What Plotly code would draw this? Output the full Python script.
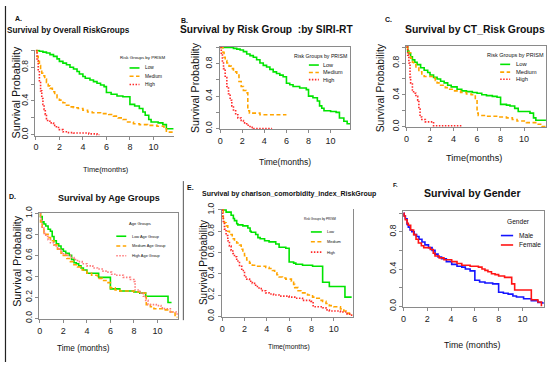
import plotly.graph_objects as go

W, H = 550, 366

# ---------------- data (time in months, survival probability) ----------------
# A. Survival by Overall RiskGroups
a_low_t = [0, 0.3, 0.6, 0.9, 1.2, 1.5, 1.8, 2.0, 2.3, 2.6, 2.9, 3.2, 3.5, 3.7, 4.0, 4.2, 4.6, 4.9, 5.2, 5.5, 5.8, 6.0, 6.4, 6.9, 7.4, 8.0, 8.4, 8.8, 9.1, 9.3, 9.6, 9.8, 10.4, 10.8, 11.1, 11.7]
a_low_s = [1.0, 0.99, 0.98, 0.97, 0.95, 0.93, 0.90, 0.87, 0.85, 0.83, 0.80, 0.78, 0.75, 0.72, 0.69, 0.67, 0.65, 0.63, 0.61, 0.59, 0.57, 0.50, 0.48, 0.46, 0.45, 0.36, 0.34, 0.31, 0.27, 0.23, 0.18, 0.15, 0.14, 0.12, 0.07, 0.07]
a_med_t = [0, 0.1, 0.2, 0.3, 0.4, 0.5, 0.6, 0.75, 0.9, 1.05, 1.2, 1.4, 1.6, 1.8, 2.0, 2.3, 2.6, 2.9, 3.2, 3.6, 4.0, 4.4, 4.8, 5.5, 6.2, 6.6, 7.0, 7.4, 7.8, 8.3, 8.8, 9.5, 10.3, 10.9, 11.1, 11.7]
a_med_s = [1.0, 0.93, 0.87, 0.82, 0.77, 0.73, 0.70, 0.66, 0.62, 0.58, 0.55, 0.51, 0.47, 0.44, 0.41, 0.38, 0.35, 0.33, 0.32, 0.31, 0.29, 0.27, 0.26, 0.25, 0.24, 0.22, 0.20, 0.18, 0.15, 0.13, 0.12, 0.11, 0.10, 0.09, 0.03, 0.03]
a_high_t = [0, 0.1, 0.2, 0.3, 0.4, 0.5, 0.6, 0.7, 0.8, 0.9, 1.0, 1.2, 1.5, 1.75, 2.0, 2.3, 2.7, 3.2, 4.5, 5.2, 5.4]
a_high_s = [1.0, 0.88, 0.76, 0.63, 0.52, 0.43, 0.36, 0.30, 0.24, 0.19, 0.16, 0.14, 0.11, 0.085, 0.06, 0.035, 0.025, 0.02, 0.01, 0.0, 0.0]

# B. Survival by Risk Group :by SIRI-RT
b_low_t = [0, 1.2, 1.5, 1.8, 2.1, 2.4, 2.7, 3.0, 3.3, 3.6, 3.9, 4.2, 4.5, 4.8, 5.1, 5.4, 5.7, 6.0, 6.3, 6.6, 7.2, 7.8, 8.0, 8.4, 8.8, 9.0, 9.2, 9.4, 10.0, 10.5, 10.8, 11.2, 11.5, 11.76]
b_low_s = [1.0, 0.99, 0.98, 0.97, 0.95, 0.92, 0.90, 0.88, 0.85, 0.81, 0.78, 0.76, 0.73, 0.70, 0.68, 0.66, 0.64, 0.56, 0.54, 0.52, 0.50, 0.48, 0.40, 0.38, 0.34, 0.28, 0.25, 0.22, 0.21, 0.20, 0.13, 0.09, 0.06, 0.05]
b_med_t = [0, 0.25, 0.35, 0.45, 0.6, 0.8, 1.0, 1.2, 1.5, 1.7, 1.9, 2.1, 2.35, 2.5, 2.65, 3.6, 6.0]
b_med_s = [1.0, 0.94, 0.88, 0.84, 0.81, 0.77, 0.74, 0.70, 0.66, 0.58, 0.52, 0.47, 0.44, 0.22, 0.19, 0.17, 0.17]
b_high_t = [0, 0.1, 0.2, 0.3, 0.45, 0.6, 0.75, 0.9, 1.05, 1.2, 1.4, 1.6, 1.9, 2.1, 2.4, 2.7, 3.0, 4.7]
b_high_s = [1.0, 0.92, 0.82, 0.74, 0.63, 0.52, 0.43, 0.35, 0.28, 0.23, 0.17, 0.13, 0.10, 0.07, 0.04, 0.015, 0.0, 0.0]

# C. Survival by CT_Risk Groups
c_low_t = [0, 0.1, 0.2, 0.35, 0.5, 0.7, 0.9, 1.2, 1.5, 1.8, 2.0, 2.3, 2.6, 2.9, 3.2, 3.5, 3.8, 4.3, 4.7, 5.1, 5.6, 6.0, 6.4, 6.8, 7.3, 7.7, 8.0, 8.5, 8.8, 9.2, 9.5, 10.5, 10.8, 11.0, 11.86]
c_low_s = [1.0, 0.95, 0.92, 0.88, 0.84, 0.81, 0.78, 0.74, 0.71, 0.68, 0.65, 0.62, 0.60, 0.57, 0.55, 0.52, 0.50, 0.47, 0.45, 0.44, 0.43, 0.42, 0.40, 0.39, 0.38, 0.37, 0.28, 0.27, 0.26, 0.23, 0.19, 0.17, 0.11, 0.08, 0.08]
c_med_t = [0, 0.1, 0.2, 0.35, 0.5, 0.6, 0.8, 1.05, 1.3, 1.5, 2.3, 2.45, 2.6, 2.9, 3.3, 3.6, 4.0, 4.6, 5.1, 5.5, 5.85, 6.0, 6.1, 6.8, 7.8, 8.5, 9.0, 9.4, 10.2, 11.1, 11.5, 11.86]
c_med_s = [1.0, 0.96, 0.93, 0.86, 0.81, 0.78, 0.74, 0.69, 0.65, 0.63, 0.61, 0.58, 0.55, 0.52, 0.49, 0.47, 0.45, 0.43, 0.41, 0.40, 0.34, 0.17, 0.14, 0.13, 0.12, 0.11, 0.09, 0.07, 0.05, 0.03, 0.0, 0.0]
c_high_t = [0, 0.1, 0.2, 0.3, 0.35, 0.5, 0.6, 0.8, 0.95, 1.05, 1.15, 1.3, 1.6, 2.3, 4.7]
c_high_s = [1.0, 0.90, 0.80, 0.62, 0.55, 0.46, 0.42, 0.38, 0.33, 0.22, 0.12, 0.09, 0.06, 0.01, 0.01]

# D. Survival by Age Groups
d_low_t = [0, 0.05, 0.2, 0.35, 0.5, 0.7, 0.9, 1.05, 1.2, 1.4, 1.6, 1.8, 2.0, 2.2, 2.5, 2.7, 2.9, 3.1, 3.3, 3.5, 3.7, 4.0, 5.0, 6.0, 6.8, 8.0, 8.5, 9.0, 10.9, 11.2]
d_low_s = [1.0, 0.97, 0.92, 0.90, 0.88, 0.85, 0.83, 0.78, 0.74, 0.71, 0.69, 0.66, 0.64, 0.62, 0.60, 0.56, 0.53, 0.52, 0.50, 0.48, 0.46, 0.43, 0.39, 0.28, 0.26, 0.25, 0.24, 0.21, 0.15, 0.15]
d_med_t = [0, 0.05, 0.2, 0.35, 0.5, 0.7, 0.9, 1.2, 1.5, 1.8, 2.0, 2.3, 2.6, 2.9, 3.2, 3.6, 4.0, 4.4, 4.9, 5.3, 5.7, 6.0, 6.4, 6.8, 8.0, 8.5, 9.0, 9.05, 9.4, 9.7, 10.5, 11.1, 11.5, 11.7]
d_med_s = [1.0, 0.92, 0.86, 0.82, 0.80, 0.77, 0.74, 0.70, 0.66, 0.62, 0.60, 0.57, 0.54, 0.51, 0.49, 0.46, 0.43, 0.41, 0.38, 0.36, 0.34, 0.29, 0.27, 0.26, 0.25, 0.24, 0.23, 0.13, 0.11, 0.09, 0.08, 0.06, 0.01, 0.01]
d_high_t = [0, 0.05, 0.2, 0.35, 0.5, 0.7, 0.9, 1.2, 1.5, 1.8, 2.0, 2.3, 2.6, 2.9, 3.2, 3.6, 4.0, 4.5, 4.9, 5.3, 5.7, 6.1, 6.55, 7.1, 7.7, 8.0, 8.1, 8.5, 8.8, 9.0, 9.2, 9.9, 10.3, 10.6, 11.1, 11.6, 11.78]
d_high_s = [1.0, 0.95, 0.86, 0.81, 0.78, 0.75, 0.72, 0.69, 0.66, 0.63, 0.61, 0.60, 0.58, 0.56, 0.54, 0.52, 0.50, 0.48, 0.47, 0.45, 0.44, 0.42, 0.41, 0.39, 0.37, 0.35, 0.27, 0.24, 0.21, 0.17, 0.13, 0.12, 0.10, 0.09, 0.06, 0.04, 0.04]

# E. Survival by charlson_comorbidity_index_RiskGroup
e_low_t = [0, 0.35, 0.8, 1.0, 1.1, 1.3, 1.4, 1.85, 2.3, 2.5, 2.6, 3.0, 3.2, 3.4, 3.8, 4.2, 4.8, 5.1, 5.7, 6.0, 6.4, 6.6, 7.2, 8.1, 9.0, 9.6, 11.0, 11.6]
e_low_s = [1.0, 0.98, 0.95, 0.92, 0.90, 0.87, 0.86, 0.85, 0.83, 0.80, 0.79, 0.77, 0.74, 0.73, 0.71, 0.70, 0.68, 0.65, 0.64, 0.51, 0.50, 0.49, 0.48, 0.47, 0.32, 0.28, 0.18, 0.18]
e_med_t = [0, 0.1, 0.2, 0.35, 0.5, 0.65, 0.9, 1.1, 1.3, 1.55, 1.7, 1.85, 2.0, 2.2, 2.45, 2.7, 2.9, 3.9, 4.2, 4.5, 4.7, 4.9, 5.1, 5.4, 5.7, 6.2, 6.4, 6.5, 6.8, 7.05, 7.65, 8.1, 8.4, 8.7, 9.0, 9.3, 9.6, 10.0, 10.6, 10.9, 11.1, 11.4, 11.6]
e_med_s = [1.0, 0.92, 0.88, 0.85, 0.80, 0.77, 0.73, 0.71, 0.69, 0.67, 0.63, 0.60, 0.57, 0.53, 0.50, 0.48, 0.47, 0.46, 0.45, 0.43, 0.41, 0.39, 0.37, 0.36, 0.35, 0.33, 0.30, 0.27, 0.24, 0.22, 0.20, 0.18, 0.17, 0.15, 0.14, 0.12, 0.10, 0.09, 0.07, 0.05, 0.03, 0.02, 0.01]
e_high_t = [0, 0.05, 0.1, 0.2, 0.35, 0.5, 0.65, 0.8, 0.95, 1.1, 1.3, 1.55, 1.75, 2.0, 2.2, 2.45, 2.7, 3.0, 3.3, 3.6, 3.9, 4.2, 4.6, 5.1, 6.0, 6.5, 7.2, 7.95, 8.15, 9.0, 9.3, 9.6, 10.6, 11.2, 11.6]
e_high_s = [1.0, 0.93, 0.88, 0.82, 0.76, 0.71, 0.66, 0.62, 0.59, 0.56, 0.52, 0.47, 0.43, 0.37, 0.35, 0.33, 0.31, 0.28, 0.26, 0.24, 0.22, 0.21, 0.20, 0.19, 0.18, 0.17, 0.15, 0.14, 0.09, 0.08, 0.06, 0.05, 0.04, 0.02, 0.0]

# F. Survival by Gender
f_male_t = [0, 0.05, 0.15, 0.3, 0.4, 0.55, 0.7, 0.9, 1.1, 1.3, 1.55, 1.8, 2.1, 2.4, 2.65, 2.9, 3.2, 3.6, 4.05, 4.5, 4.9, 5.2, 5.6, 6.0, 6.4, 6.85, 7.5, 8.0, 8.4, 8.8, 9.2, 9.5, 10.1, 10.75, 11.3, 11.65, 11.8]
f_male_s = [1.0, 0.97, 0.94, 0.88, 0.85, 0.82, 0.80, 0.77, 0.75, 0.72, 0.69, 0.66, 0.63, 0.60, 0.56, 0.53, 0.51, 0.48, 0.45, 0.43, 0.42, 0.40, 0.38, 0.28, 0.26, 0.25, 0.24, 0.15, 0.14, 0.13, 0.11, 0.10, 0.08, 0.06, 0.04, 0.035, 0.03]
f_fem_t = [0, 0.05, 0.15, 0.3, 0.4, 0.6, 0.85, 1.05, 1.25, 1.5, 1.7, 2.25, 2.5, 2.65, 3.0, 3.4, 4.05, 4.5, 4.9, 5.6, 6.3, 6.6, 6.85, 7.1, 7.4, 7.7, 8.0, 8.5, 9.1, 9.35, 10.75, 11.3, 11.6]
f_fem_s = [1.0, 0.97, 0.93, 0.89, 0.87, 0.82, 0.77, 0.72, 0.68, 0.65, 0.63, 0.61, 0.57, 0.54, 0.52, 0.50, 0.48, 0.46, 0.44, 0.43, 0.42, 0.40, 0.385, 0.37, 0.35, 0.34, 0.325, 0.31, 0.24, 0.175, 0.07, 0.045, 0.0]

x_tick_vals = [0, 2, 4, 6, 8, 10]
y_tick_vals = [0, 0.2, 0.4, 0.6, 0.8, 1.0]
y_text_sparse = ["0.0", "", "0.4", "", "0.8", ""]
y_text_full = ["0.0", "0.2", "0.4", "0.6", "0.8", "1.0"]

risk_names = ["Low", "Medium", "High"]
age_names = ["Low Age Group", "Medium Age Group", "High Age Group"]
gender_names = ["Male", "Female"]

# ---------------- styles ----------------
GREEN = "#00E400"
ORANGE = "#FFA500"
RED = "#FF2A2A"
PINK = "#FF7A7A"
BLUE = "#1414FF"
FRED = "#FF1414"
SANS = "Liberation Sans, Arial, sans-serif"

SOLID = dict(dash="solid", width=1.6)
DASHED = dict(dash="4px,2.5px", width=1.6)
DOTTED = dict(dash="1.5px,1.5px", width=1.6)


def px(x):
    return x / W


def py(y):
    return 1 - y / H


# panel geometry in pixels: x0 pixel of t=0, px per month, pixel y of S=0, S=1
panels = {
    "A": dict(x0=34, ppm=11.8, s0=132.3, s1=45.7, xr=(-0.05, 11.75), yr=(-0.012, 1.01), box=(False, False), ytext=y_text_sparse),
    "B": dict(x0=219, ppm=11.08, s0=126, s1=42.7, xr=(-0.05, 11.76), yr=(-0.01, 1.008), box=(True, True), ytext=y_text_sparse),
    "C": dict(x0=406, ppm=11.8, s0=124, s1=42.3, xr=(-0.05, 11.86), yr=(-0.01, 1.016), box=(True, True), ytext=y_text_sparse),
    "D": dict(x0=38, ppm=11.8, s0=321, s1=213.3, xr=(-0.05, 11.78), yr=(-0.01, 1.009), box=(True, True), ytext=y_text_full),
    "E": dict(x0=221, ppm=11.2, s0=319, s1=209.7, xr=(-0.05, 11.7), yr=(-0.01, 1.01), box=(False, True), ytext=y_text_full),
    "F": dict(x0=403, ppm=11.93, s0=308.7, s1=213, xr=(-0.05, 11.8), yr=(-0.01, 1.028), box=(True, True), ytext=y_text_sparse),
}

fig = go.Figure()
layout = dict(
    width=W, height=H, margin=dict(l=0, r=0, t=0, b=0),
    paper_bgcolor="white", plot_bgcolor="white", showlegend=False,
)

for i, (key, p) in enumerate(panels.items(), start=1):
    sfx = "" if i == 1 else str(i)
    xl = p["x0"] + p["xr"][0] * p["ppm"]
    xr_ = p["x0"] + p["xr"][1] * p["ppm"]
    scale = p["s0"] - p["s1"]
    yb = p["s0"] - p["yr"][0] * scale
    yt = p["s0"] - p["yr"][1] * scale
    layout["xaxis" + sfx] = dict(
        domain=[px(xl), px(xr_)], range=list(p["xr"]), anchor="y" + sfx,
        showgrid=False, zeroline=False, showline=True, linecolor="#8a8a8a", linewidth=1,
        mirror=p["box"][0], ticks="outside", ticklen=3, tickcolor="#8a8a8a",
        tickvals=x_tick_vals, ticktext=[str(v) for v in x_tick_vals],
        tickfont=dict(family=SANS, size=9, color="#222"),
    )
    layout["yaxis" + sfx] = dict(
        domain=[py(yb), py(yt)], range=list(p["yr"]), anchor="x" + sfx,
        showgrid=False, zeroline=False, showline=True, linecolor="#8a8a8a", linewidth=1,
        mirror=p["box"][1], ticks="outside", ticklen=3, tickcolor="#8a8a8a",
        tickvals=y_tick_vals, ticktext=p["ytext"], tickangle=-90,
        tickfont=dict(family=SANS, size=8.5, color="#222"),
    )


def add_curve(t, s, color, style, idx):
    sfx = "" if idx == 1 else str(idx)
    fig.add_trace(go.Scatter(
        x=t, y=s, mode="lines", line=dict(color=color, shape="hv", **style),
        xaxis="x" + sfx, yaxis="y" + sfx, hoverinfo="skip",
    ))


add_curve(a_low_t, a_low_s, GREEN, SOLID, 1)
add_curve(a_med_t, a_med_s, ORANGE, DASHED, 1)
add_curve(a_high_t, a_high_s, RED, DOTTED, 1)
add_curve(b_low_t, b_low_s, GREEN, SOLID, 2)
add_curve(b_med_t, b_med_s, ORANGE, DASHED, 2)
add_curve(b_high_t, b_high_s, RED, DOTTED, 2)
add_curve(c_low_t, c_low_s, GREEN, SOLID, 3)
add_curve(c_med_t, c_med_s, ORANGE, DASHED, 3)
add_curve(c_high_t, c_high_s, RED, DOTTED, 3)
add_curve(d_low_t, d_low_s, GREEN, SOLID, 4)
add_curve(d_med_t, d_med_s, ORANGE, DASHED, 4)
add_curve(d_high_t, d_high_s, PINK, DOTTED, 4)
add_curve(e_low_t, e_low_s, GREEN, SOLID, 5)
add_curve(e_med_t, e_med_s, ORANGE, DASHED, 5)
add_curve(e_high_t, e_high_s, RED, DOTTED, 5)
add_curve(f_male_t, f_male_s, BLUE, SOLID, 6)
add_curve(f_fem_t, f_fem_s, FRED, SOLID, 6)

annotations = []
shapes = []


def text(x, y, s, size, family=SANS, bold=False, color="#111", angle=0, xanchor="center"):
    annotations.append(dict(
        x=px(x), y=py(y), xref="paper", yref="paper", text=("<b>%s</b>" % s) if bold else s,
        showarrow=False, xanchor=xanchor, yanchor="middle", textangle=angle,
        font=dict(family=family, size=size, color=color),
    ))


# panel letters and titles
text(17, 13, "A.", 7, bold=True)
text(67, 25, "Survival by Overall RiskGroups", 8.2, bold=True)
text(183, 15, "B.", 7, bold=True)
text(265, 24, "Survival by Risk Group  :by SIRI-RT", 10.2, bold=True)
text(388, 14, "C.", 7, bold=True)
text(475, 24, "Survival by CT_Risk Groups", 10.4, bold=True)
text(11, 196, "D.", 7, bold=True)
text(107, 197, "Survival by Age Groups", 9, bold=True)
text(189, 187, "E.", 7, bold=True)
text(288, 193, "Survival by charlson_comorbidity_index_RiskGroup", 7, bold=True)
text(395, 184, "F.", 6, bold=True)
text(472, 192, "Survival by Gender", 10.6, bold=True)

# axis titles
text(14, 89, "Survival Probability", 10.8, angle=-90)
text(193, 84, "Survival Probability", 10.6, angle=-90)
text(380, 84, "Survival Probability", 10.4, angle=-90)
text(15, 262, "Survival Probability", 10.7, angle=-90)
text(203, 264, "Survival Probability", 10, angle=-90)
text(104, 168, "Time(months)", 7.4)
text(284, 160, "Time(months)", 8.5)
text(474, 156, "Time(months)", 9.2)
text(82, 352, "Time (months)", 8.2)
text(288, 351, "Time(months)", 6.8)
text(472, 349, "Time (months)", 8.8)


def legend(title, tx, ty, lx0, lx1, tx_text, ys, names, colors, styles, size, tsize):
    text(tx, ty, title, tsize)
    for yy, nm, col, st in zip(ys, names, colors, styles):
        shapes.append(dict(type="line", xref="paper", yref="paper",
                           x0=px(lx0), x1=px(lx1), y0=py(yy), y1=py(yy),
                           line=dict(color=col, width=st["width"], dash=st["dash"])))
        text(tx_text, yy, nm, size, xanchor="left")


legend("Risk Groups by PRISM", 141, 53, 128, 138, 142, [63.7, 72.3, 80.7], risk_names,
       [GREEN, ORANGE, RED], [SOLID, DASHED, DOTTED], 4.8, 4.4)
legend("Risk Groups by PRISM", 320, 51.3, 308, 318, 320, [60.7, 68.3, 75.7], risk_names,
       [GREEN, ORANGE, RED], [SOLID, DASHED, DOTTED], 5.5, 5.2)
legend("Risk Groups by PRISM", 515, 50, 500, 510, 514, [60, 68, 75.3], risk_names,
       [GREEN, ORANGE, RED], [SOLID, DASHED, DOTTED], 5.8, 5.5)
legend("Age Groups", 139, 224, 114.7, 124.7, 128.7, [236.7, 246.7, 256.7], age_names,
       [GREEN, ORANGE, PINK], [SOLID, DASHED, DOTTED], 3.9, 4.1)
legend("Risk Groups by PRISM", 319, 219, 310, 321, 324.3, [232.3, 242.3, 253], risk_names,
       [GREEN, ORANGE, RED], [SOLID, DASHED, DOTTED], 3.9, 3.1)
legend("Gender", 518, 222, 500.7, 513, 517.3, [236, 245.7], gender_names,
       [BLUE, FRED], [SOLID, SOLID], 6.6, 6.6)

# figure frame lines of the composite
shapes.append(dict(type="line", xref="paper", yref="paper", x0=px(3.5), x1=px(3.5), y0=0, y1=1,
                   line=dict(color="#222", width=1.2)))
shapes.append(dict(type="line", xref="paper", yref="paper", x0=px(182), x1=px(182), y0=py(180), y1=py(323),
                   line=dict(color="#555", width=1)))

layout["annotations"] = annotations
layout["shapes"] = shapes
fig.update_layout(**layout)
fig.write_html("out.html", config={"displayModeBar": False},
               post_script="document.body.style.margin='0';document.body.style.overflow='hidden';")
